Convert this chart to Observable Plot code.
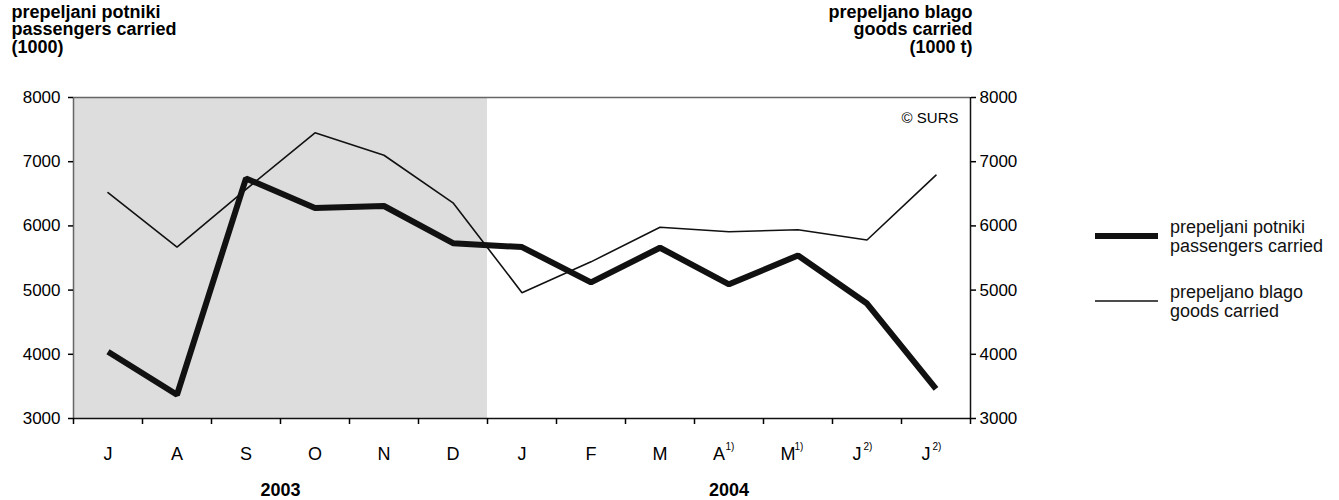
<!DOCTYPE html>
<html><head><meta charset="utf-8">
<script src="https://cdn.jsdelivr.net/npm/d3@7"></script>
<script src="https://cdn.jsdelivr.net/npm/@observablehq/plot@0.6"></script>
<style>body{margin:0;background:#fff} svg{display:block}</style>
</head><body><div id="chart"></div>
<script>
const months = ["J","A","S","O","N","D","J","F","M","A","M","J","J"];
const notes = ["","","","","","","","","","1)","1)","2)","2)"];
const yearOfMonth = [0,0,0,0,0,0,1,1,1,1,1,1,1];
const years = ["2003","2004"];
const passengers = [4040,3370,6740,6280,6310,5730,5670,5120,5660,5090,5540,4790,3460];
const goods = [6520,5670,6570,7450,7100,6360,4960,5440,5980,5910,5940,5780,6790];
const yTicks = [3000,4000,5000,6000,7000,8000];
const leftTitle = "prepeljani potniki\npassengers carried\n(1000)";
const rightTitle = "prepeljano blago\ngoods carried\n(1000 t)";
const legendItems = [
  {label: "prepeljani potniki\npassengers carried", width: 6},
  {label: "prepeljano blago\ngoods carried", width: 1.6}
];

const data = months.map((m, i) => ({i, xc: i + 0.5, month: m, note: notes[i], passengers: passengers[i], goods: goods[i]}));
const yearSpans = years.map((y, k) => {
  const idx = yearOfMonth.map((v, i) => v === k ? i : -1).filter(i => i >= 0);
  return {year: y, x1: d3.min(idx), x2: d3.max(idx) + 1, xm: (d3.min(idx) + d3.max(idx) + 1) / 2};
});
const yMin = d3.min(yTicks), yMax = d3.max(yTicks);

const chart = Plot.plot({
  width: 1339, height: 500,
  marginLeft: 73, marginRight: 369, marginTop: 97, marginBottom: 82,
  style: {fontFamily: "'Liberation Sans', Arial, sans-serif", fontSize: "17px", color: "#000", background: "#fff"},
  x: {type: "linear", domain: [0, months.length], axis: null},
  y: {domain: [yMin, yMax], axis: null},
  marks: [
    Plot.rect([yearSpans[0]], {x1: "x1", x2: "x2", y1: yMin, y2: yMax, fill: "#dddddd"}),
    Plot.ruleY([yMax], {stroke: "#666", strokeWidth: 1.5}),
    Plot.ruleX([0], {stroke: "#666", strokeWidth: 1.5}),
    Plot.ruleX([months.length], {stroke: "#111", strokeWidth: 1.5}),
    Plot.ruleY([yMin], {stroke: "#111", strokeWidth: 1.5}),
    Plot.axisY(yTicks, {anchor: "left", tickSize: 5, tickPadding: 8, fontSize: 17, tickFormat: d3.format("d"), strokeWidth: 1.5}),
    Plot.axisY(yTicks, {anchor: "right", tickSize: 5, tickPadding: 4, fontSize: 17, tickFormat: d3.format("d"), strokeWidth: 1.5}),
    Plot.axisX(d3.range(months.length + 1), {anchor: "bottom", tickSize: 6, tickFormat: () => "", strokeWidth: 1.5}),
    Plot.text(data.filter(d => !d.note), {x: "xc", text: "month", frameAnchor: "bottom", lineAnchor: "middle", dy: 36, fontSize: 18}),
    Plot.text(data.filter(d => d.note), {x: "xc", text: "month", frameAnchor: "bottom", lineAnchor: "middle", dy: 36, dx: -10, fontSize: 18}),
    Plot.text(data.filter(d => d.note), {x: "xc", text: "note", frameAnchor: "bottom", lineAnchor: "middle", dy: 28, dx: 1, fontSize: 10}),
    Plot.text(yearSpans, {x: "xm", text: "year", frameAnchor: "bottom", lineAnchor: "middle", dy: 72, fontSize: 18, fontWeight: "bold"}),
    Plot.line(data, {x: "xc", y: "goods", stroke: "#111", strokeWidth: 1.6, strokeLinejoin: "miter"}),
    Plot.line(data, {x: "xc", y: "passengers", stroke: "#111", strokeWidth: 6, strokeLinejoin: "miter", strokeLinecap: "butt"}),
    Plot.text(["© SURS"], {frameAnchor: "top-right", lineAnchor: "middle", dx: -12, dy: 21, fontSize: 15}),
    Plot.text([leftTitle], {frameAnchor: "top-left", dx: -62, dy: -92, textAnchor: "start", lineAnchor: "top", fontWeight: "bold", fontSize: 18, lineHeight: 0.97}),
    Plot.text([rightTitle], {frameAnchor: "top-right", dx: 2, dy: -92, textAnchor: "end", lineAnchor: "top", fontWeight: "bold", fontSize: 18, lineHeight: 0.97})
  ]
});

const svg = d3.select(chart);
const lg = svg.append("g").attr("font-family", "'Liberation Sans', Arial, sans-serif").attr("font-size", 18).attr("fill", "#111").attr("text-anchor", "start");
legendItems.forEach((it, k) => {
  const cy = 236 + k * 65;
  lg.append("line").attr("x1", 1095).attr("x2", 1158).attr("y1", cy).attr("y2", cy)
    .attr("stroke", "#111").attr("stroke-width", it.width);
  it.label.split("\n").forEach((s, j) => {
    lg.append("text").attr("x", 1170).attr("y", cy - 9 + j * 19).attr("dy", "0.35em").text(s);
  });
});
document.getElementById("chart").appendChild(chart);
</script>
</body></html>
